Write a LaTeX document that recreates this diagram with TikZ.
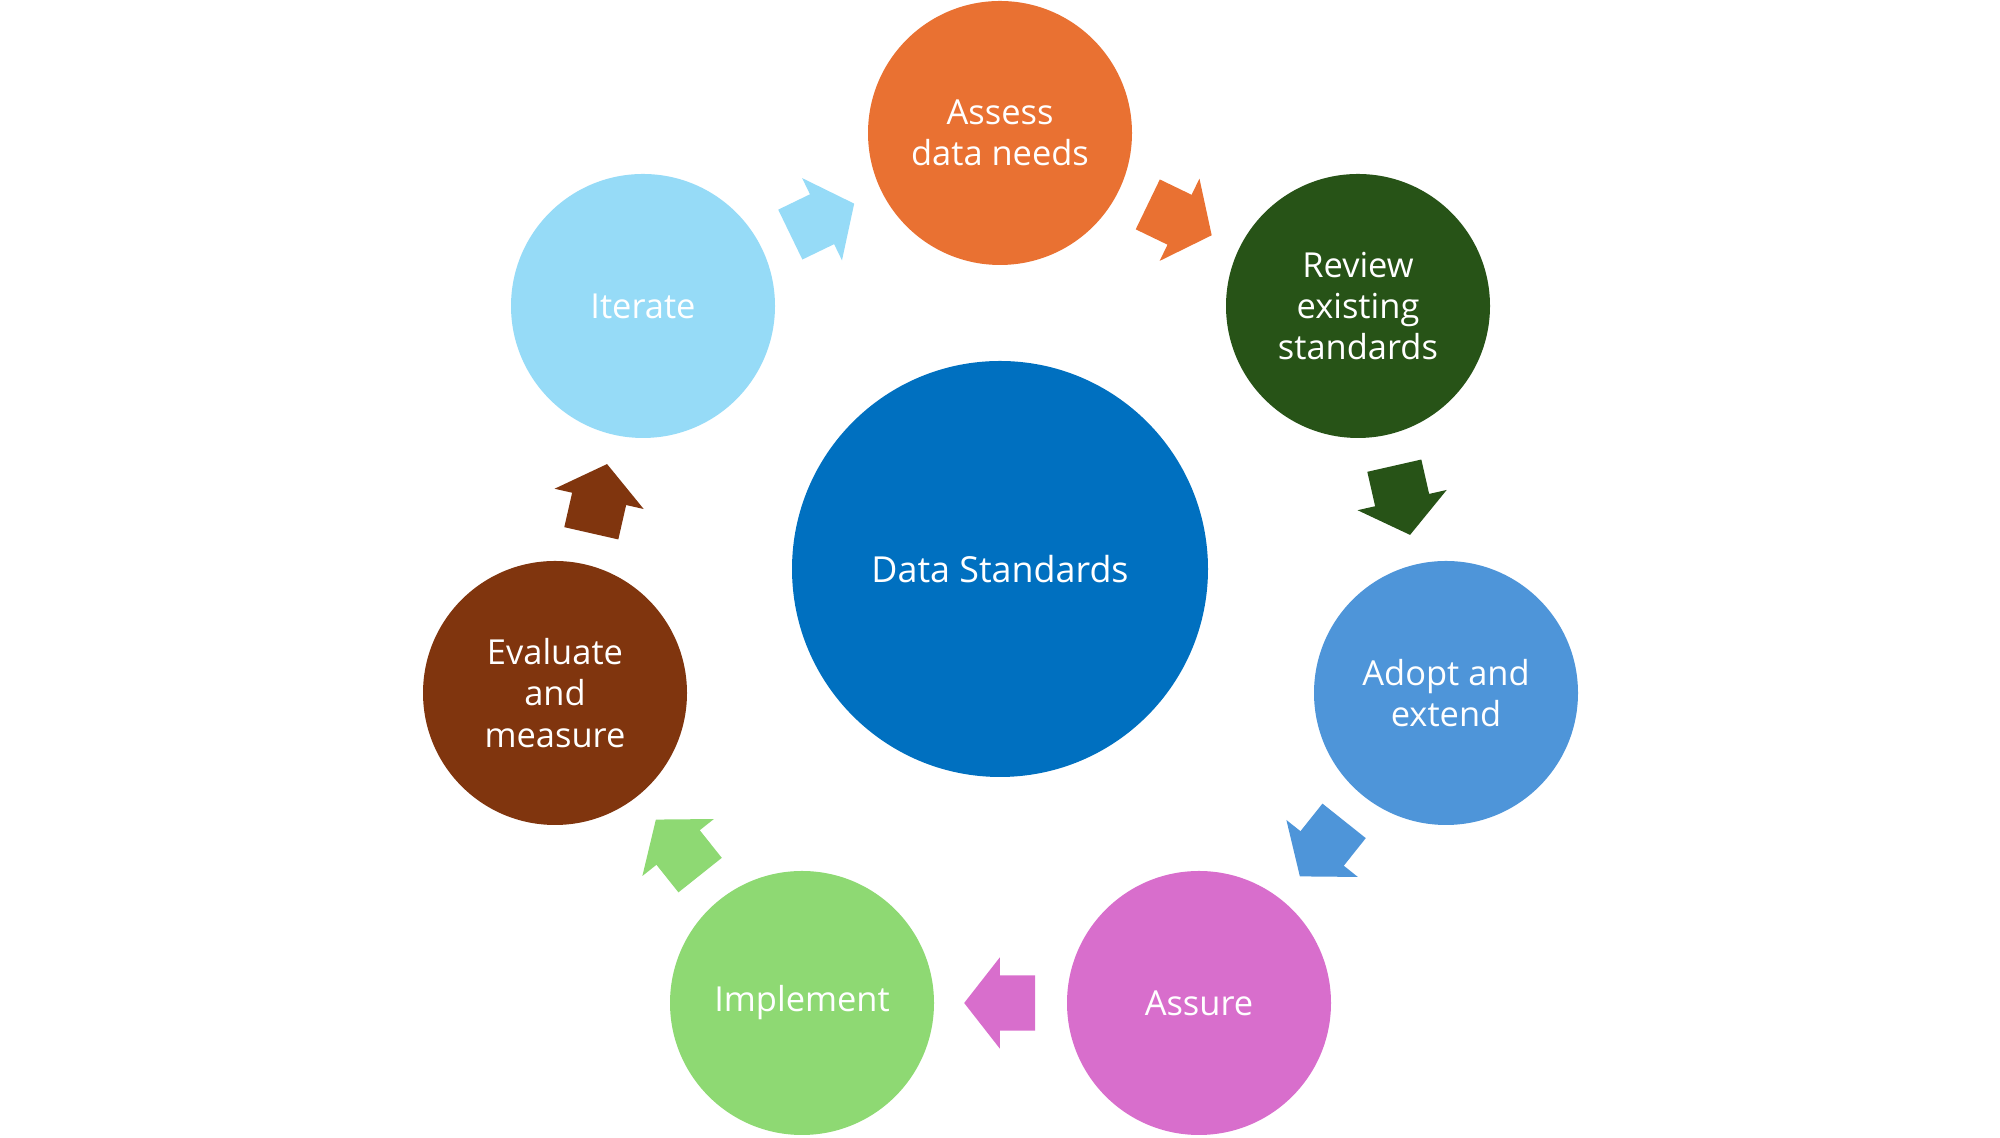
\documentclass[tikz,border=0pt]{standalone}
\usepackage{fontspec}
\setmainfont{Open Sans}
\usepackage{tikz}
\usetikzlibrary{shapes.arrows}

\definecolor{hubblue}{HTML}{0070C0}
\definecolor{assesscol}{HTML}{E97132}
\definecolor{reviewcol}{HTML}{275317}
\definecolor{adoptcol}{HTML}{4E95D9}
\definecolor{assurecol}{HTML}{D86ECC}
\definecolor{implcol}{HTML}{8ED973}
\definecolor{evalcol}{HTML}{80350E}
\definecolor{itercol}{HTML}{96DBF7}

\begin{document}
\begin{tikzpicture}[
  phase/.style={circle, minimum size=2.64cm, inner sep=0pt, align=center, text=white,
    font=\fontsize{9.8}{11.7}\selectfont},
  hub/.style={phase, minimum size=4.16cm, font=\fontsize{10.2}{12.2}\selectfont},
  turn/.style={single arrow, draw=none, inner xsep=0pt, inner ysep=0.27cm, minimum width=0pt,
    minimum height=0.71cm, single arrow head extend=0.18cm, single arrow tip angle=104,
    sloped, allow upside down, xshift=-0.1cm}]
\useasboundingbox (0,0) rectangle (20,11.38);
\node[hub, fill=hubblue] (hub) at (10,5.69) {Data Standards};
% the cycle, clockwise from the top
\node[phase, fill=assesscol] (assess) at (10,10.05) {Assess\\data needs};
\node[phase, fill=reviewcol] (review) at (13.58,8.32) {Review\\existing\\standards};
\node[phase, fill=adoptcol] (adopt) at (14.46,4.45) {Adopt and\\extend};
\node[phase, fill=assurecol] (assure) at (11.99,1.35) {Assure};
\node[phase, fill=implcol] (impl) at (8.02,1.35) {Implement};
\node[phase, fill=evalcol] (eval) at (5.55,4.45) {Evaluate\\and\\measure};
\node[phase, fill=itercol] (iter) at (6.43,8.32) {Iterate};
% block arrows between neighbours
\path (assess) -- node[turn, fill=assesscol] {} (review);
\path (review) -- node[turn, fill=reviewcol] {} (adopt);
\path (adopt) -- node[turn, fill=adoptcol] {} (assure);
\path (assure) -- node[turn, fill=assurecol] {} (impl);
\path (impl) -- node[turn, fill=implcol] {} (eval);
\path (eval) -- node[turn, fill=evalcol] {} (iter);
\path (iter) -- node[turn, fill=itercol] {} (assess);
\end{tikzpicture}
\end{document}
